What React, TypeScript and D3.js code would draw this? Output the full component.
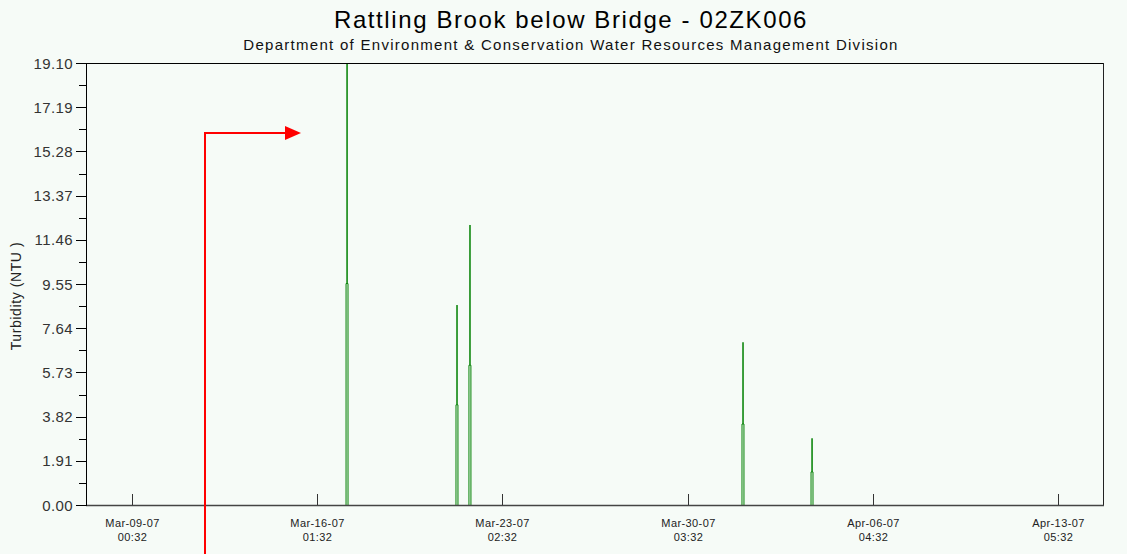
import React from "react";
import * as d3 from "d3";

const W = 1127;
const H = 554;

const yTicks = [0, 1.91, 3.82, 5.73, 7.64, 9.55, 11.46, 13.37, 15.28, 17.19, 19.1];
const xTickDates = [
  "2007-03-09T00:32:00Z",
  "2007-03-16T01:32:00Z",
  "2007-03-23T02:32:00Z",
  "2007-03-30T03:32:00Z",
  "2007-04-06T04:32:00Z",
  "2007-04-13T05:32:00Z",
];
const xTickDay = ["Mar-09-07", "Mar-16-07", "Mar-23-07", "Mar-30-07", "Apr-06-07", "Apr-13-07"];
const xTickTime = ["00:32", "01:32", "02:32", "03:32", "04:32", "05:32"];

// spike start times, shoulder and peak values
const spikeStarts = [
  "2007-03-17T03:50:00Z",
  "2007-03-21T08:10:00Z",
  "2007-03-21T20:00:00Z",
  "2007-04-01T05:10:00Z",
  "2007-04-03T20:10:00Z",
];
const spikeShoulders = [9.57, 4.33, 6.04, 3.5, 1.43];
const spikePeaks = [19.1, 8.64, 12.1, 7.03, 2.88];

const domainStart = "2007-03-07T06:32:00Z";
const domainEnd = "2007-04-14T23:32:00Z";

export default function App() {
  const left = 86, right = 1104, top = 63, bottom = 505;
  const x = d3.scaleUtc().domain([new Date(domainStart), new Date(domainEnd)]).range([left, right]);
  const y = d3.scaleLinear().domain([0, 19.1]).range([bottom, top]);

  const step = 60 * 60 * 1000;
  const spikes = spikeStarts.map((s, i) => {
    const t0 = new Date(s).getTime();
    return [
      { t: new Date(t0), v: 0 },
      { t: new Date(t0 + step * 0.02), v: spikeShoulders[i] },
      { t: new Date(t0 + step * 0.9), v: spikeShoulders[i] },
      { t: new Date(t0 + step * 0.95), v: spikePeaks[i] },
      { t: new Date(t0 + step * 1.0), v: spikeShoulders[i] },
      { t: new Date(t0 + step * 1.8), v: spikeShoulders[i] },
      { t: new Date(t0 + step * 1.82), v: 0 },
    ];
  });

  const line = d3
    .line<{ t: Date; v: number }>()
    .x((d) => x(d.t))
    .y((d) => y(d.v));

  const minor = yTicks.slice(0, -1).map((v, i) => (v + yTicks[i + 1]) / 2);
  const font = "Liberation Sans, Arial, sans-serif";

  return (
    <svg
      width={W}
      height={H}
      style={{ position: "absolute", left: 0, top: 0, background: "#f6fbf7" }}
      fontFamily={font}
    >
      <rect x={0} y={0} width={W} height={H} fill="#f6fbf7" />
      <text x={571} y={28} textAnchor="middle" fontSize={24} letterSpacing={1.6} fill="#000">
        Rattling Brook below Bridge - 02ZK006
      </text>
      <text x={571} y={50} textAnchor="middle" fontSize={15} letterSpacing={1.28} fill="#111">
        Department of Environment &amp; Conservation Water Resources Management Division
      </text>

      {/* data */}
      {spikes.map((s, i) => (
        <path key={i} d={line(s) || ""} fill="none" stroke="#008000" strokeWidth={1} />
      ))}

      {/* frame */}
      <line x1={left} x2={right} y1={top + 0.5} y2={top + 0.5} stroke="#000" />
      <line x1={right - 0.5} x2={right - 0.5} y1={top} y2={bottom} stroke="#222" />
      <line x1={left} x2={right} y1={bottom + 0.5} y2={bottom + 0.5} stroke="#444" strokeWidth={1.5} />
      <line x1={left + 0.5} x2={left + 0.5} y1={top} y2={bottom + 1} stroke="#000" />

      {/* y ticks */}
      {yTicks.map((v) => (
        <g key={v}>
          <line x1={left - 10} x2={left} y1={Math.round(y(v)) + 0.5} y2={Math.round(y(v)) + 0.5} stroke="#000" />
          <text x={left - 13} y={y(v) + 5.5} textAnchor="end" fontSize={15} letterSpacing={0.4} fill="#333">
            {v.toFixed(2)}
          </text>
        </g>
      ))}
      {minor.map((v) => (
        <line key={v} x1={left - 7} x2={left} y1={Math.round(y(v)) + 0.5} y2={Math.round(y(v)) + 0.5} stroke="#000" />
      ))}
      <text
        transform={`translate(21,${(top + bottom) / 2 + 12}) rotate(-90)`}
        textAnchor="middle"
        fontSize={14}
        letterSpacing={0.6}
        fill="#222"
      >
        Turbidity (NTU )
      </text>

      {/* x ticks */}
      {xTickDates.map((d, i) => {
        const px = Math.round(x(new Date(d))) + 0.5;
        return (
          <g key={d}>
            <line x1={px} x2={px} y1={bottom - 11} y2={bottom} stroke="#333" />
            <text x={px} y={527} textAnchor="middle" fontSize={11} letterSpacing={0.4} fill="#222">
              {xTickDay[i]}
            </text>
            <text x={px} y={541} textAnchor="middle" fontSize={11} letterSpacing={0.4} fill="#222">
              {xTickTime[i]}
            </text>
          </g>
        );
      })}

      {/* red arrow annotation */}
      <polyline points="205,554 205,133 286,133" fill="none" stroke="#ff0000" strokeWidth={2} />
      <polygon points="285,126 301,133 285,140" fill="#ff0000" />
    </svg>
  );
}
